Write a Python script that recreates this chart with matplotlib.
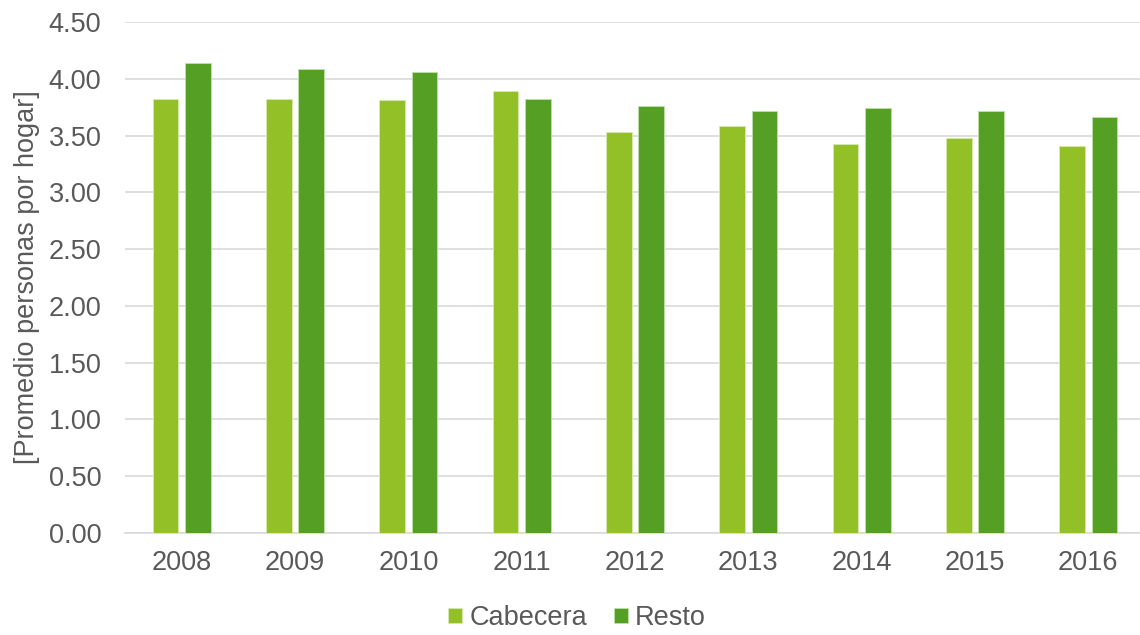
import numpy as np
import matplotlib.pyplot as plt

plt.rcParams.update({
    "font.family": ["Liberation Sans", "DejaVu Sans"],
    "font.size": 19.5,
})

years = ["2008", "2009", "2010", "2011", "2012", "2013", "2014", "2015", "2016"]
cabecera = [3.82, 3.82, 3.81, 3.89, 3.53, 3.58, 3.43, 3.48, 3.41]
resto = [4.14, 4.09, 4.06, 3.82, 3.76, 3.72, 3.74, 3.72, 3.66]

C_CAB, C_RES = "#92C026", "#55A024"
TXT = "#595959"
FS = 19.5

fig = plt.figure(figsize=(11.4, 6.35), dpi=100)
# axes slightly wider than the figure on the right, like the source image crop
ax = fig.add_axes([125 / 1140, 102 / 635, 1020 / 1140, 511 / 635])

x = np.arange(len(years))
w, off = 0.225, 0.143
ax.bar(x - off, cabecera, w, color=C_CAB, edgecolor="#d6ecb0", linewidth=0.6, label="Cabecera", zorder=3)
ax.bar(x + off, resto, w, color=C_RES, edgecolor="#bfe0a8", linewidth=0.6, label="Resto", zorder=3)

ax.set_xlim(-0.5, len(years) - 0.5)
ax.set_ylim(0, 4.5)
yt = np.arange(0, 4.51, 0.5)
ax.set_yticks(yt)
ax.set_yticklabels([f"{v:.2f}" for v in yt])
ax.set_xticks(x)
ax.set_xticklabels(years)

ax.grid(axis="y", color="#d9d9d9", linewidth=1.2, zorder=0)
for s in ["left", "right", "top"]:
    ax.spines[s].set_visible(False)
ax.spines["bottom"].set_color("#d9d9d9")
ax.spines["bottom"].set_linewidth(1.2)
ax.tick_params(axis="y", length=0, pad=17, labelcolor=TXT, labelsize=FS)
ax.tick_params(axis="x", length=0, pad=12, labelcolor=TXT, labelsize=FS)

fig.text(27 / 1140, 1 - 277 / 635, "[Promedio personas por hogar]", rotation=90,
         ha="center", va="center", color=TXT, fontsize=FS)

fig.legend(*ax.get_legend_handles_labels(), loc="center",
           bbox_to_anchor=(577 / 1140, 1 - 618 / 635), ncol=2, frameon=False,
           fontsize=FS, labelcolor=TXT, handlelength=0.52, handleheight=0.52,
           handletextpad=0.25, columnspacing=1.0, borderpad=0, borderaxespad=0)

fig.savefig("out.png", dpi=100, facecolor="white")
